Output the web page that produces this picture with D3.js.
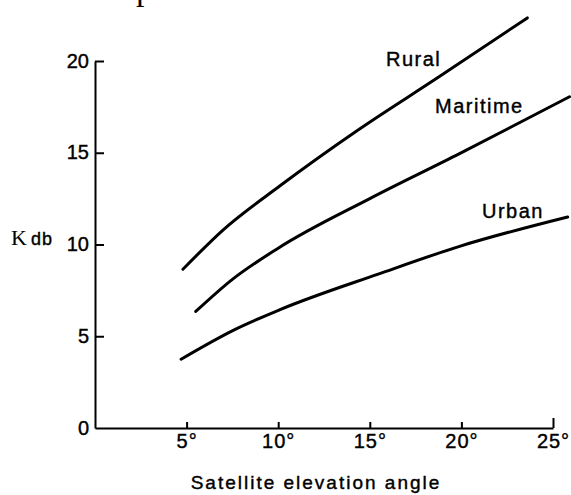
<!DOCTYPE html>
<html>
<head>
<meta charset="utf-8">
<script src="https://cdn.jsdelivr.net/npm/d3@7"></script>
<style>
    body { margin: 0; background: #fff; }
    text { font-family: "Liberation Sans", Arial, Helvetica, sans-serif; fill: #000; }
</style>
</head>
<body>
<div class="js-canvas"></div>
<script>
'use strict';

// data (elevation angle in degrees, K in dB)
const rural = [
    [4.8, 8.65], [7.0, 10.8], [10.1, 13.2], [14.3, 16.2], [18.8, 19.15], [23.6, 22.35]
];
const maritime = [
    [5.5, 6.35], [7.5, 8.1], [10.0, 9.8], [15.0, 12.5], [19.9, 14.95], [25.9, 18.05]
];
const urban = [
    [4.7, 3.75], [7.6, 5.35], [10.1, 6.45], [15.5, 8.4], [19.9, 9.9], [25.8, 11.5]
];
const seriesNames = ['Rural', 'Maritime', 'Urban'];
const xTicks = [5, 10, 15, 20, 25];
const yTicks = [0, 5, 10, 15, 20];

const config = {
    width: 571,
    height: 495
}

const svg = d3.select('.js-canvas')
    .append('svg')
    .attr('width', config.width)
    .attr('height', config.height)
    ;

const x = d3.scaleLinear()
    .domain([0, 25])
    .range([95, 553])
    ;

const y = d3.scaleLinear()
    .domain([0, 20])
    .range([428, 61])
    ;

// bit of the cut-off heading at the very top of the scan
svg.append('text')
    .attr('x', 136)
    .attr('y', 0)
    .style('font-family', '"Liberation Serif", "Times New Roman", serif')
    .style('font-size', '34px')
    .text('p')
    ;

// axes, ticks point inward like the original
const xAxis = d3.axisTop(x)
    .tickValues(xTicks)
    .tickSize(6)
    .tickSizeOuter(0)
    .tickFormat(d => d + '°')
    ;

const yAxis = d3.axisRight(y)
    .tickValues(yTicks)
    .tickSize(9)
    .tickSizeOuter(0)
    ;

const xAxisGroup = svg.append('g')
    .attr('transform', `translate(0, ${y(0)})`)
    .call(xAxis)
    ;

const yAxisGroup = svg.append('g')
    .attr('transform', `translate(${x(0)}, 0)`)
    .call(yAxis)
    ;

svg.selectAll('.domain, .tick line')
    .attr('stroke', '#000')
    .attr('stroke-width', 2)
    ;

xAxisGroup.selectAll('.tick line').filter(d => d === 25).attr('y2', -10);

xAxisGroup.selectAll('text')
    .attr('y', 20)
    .attr('dy', 0)
    .style('font-size', '20px')
    .style('letter-spacing', '1px')
    .attr('fill', '#000')
    .attr('stroke', '#000')
    .attr('stroke-width', 0.4)
    ;

yAxisGroup.selectAll('.tick line').filter(d => d === 0).remove();

yAxisGroup.selectAll('text')
    .attr('x', -6)
    .attr('dy', '0.3em')
    .attr('text-anchor', 'end')
    .style('font-size', '20px')
    .attr('fill', '#000')
    .attr('stroke', '#000')
    .attr('stroke-width', 0.4)
    ;

// axis titles
svg.append('text')
    .attr('x', 316)
    .attr('y', 489)
    .attr('text-anchor', 'middle')
    .attr('stroke', '#000')
    .attr('stroke-width', 0.4)
    .style('font-size', '19px')
    .style('letter-spacing', '2px')
    .text('Satellite elevation angle')
    ;

const kLabel = svg.append('text')
    .attr('x', 11)
    .attr('y', 245)
    ;
kLabel.append('tspan')
    .style('font-family', '"Liberation Serif", "Times New Roman", serif')
    .style('font-size', '22px')
    .text('K')
    ;
kLabel.append('tspan')
    .attr('dx', 4)
    .attr('stroke', '#000')
    .attr('stroke-width', 0.4)
    .style('font-size', '18px')
    .style('letter-spacing', '1px')
    .text('db')
    ;

// curves
const line = d3.line()
    .x(d => x(d[0]))
    .y(d => y(d[1]))
    .curve(d3.curveMonotoneX)
    ;

svg.selectAll('path.curve')
    .data([rural, maritime, urban])
    .enter().append('path')
    .attr('class', 'curve')
    .attr('d', line)
    .attr('fill', 'none')
    .attr('stroke', '#000')
    .attr('stroke-width', 3)
    .attr('stroke-linecap', 'round')
    ;

// curve labels
const labelPos = [[386, 66], [435, 113], [482, 218]];

svg.selectAll('text.series')
    .data(seriesNames)
    .enter().append('text')
    .attr('class', 'series')
    .attr('x', (d, i) => labelPos[i][0])
    .attr('y', (d, i) => labelPos[i][1])
    .attr('stroke', '#000')
    .attr('stroke-width', 0.4)
    .style('font-size', '20px')
    .style('letter-spacing', '1.5px')
    .text(d => d)
    ;
</script>
</body>
</html>
